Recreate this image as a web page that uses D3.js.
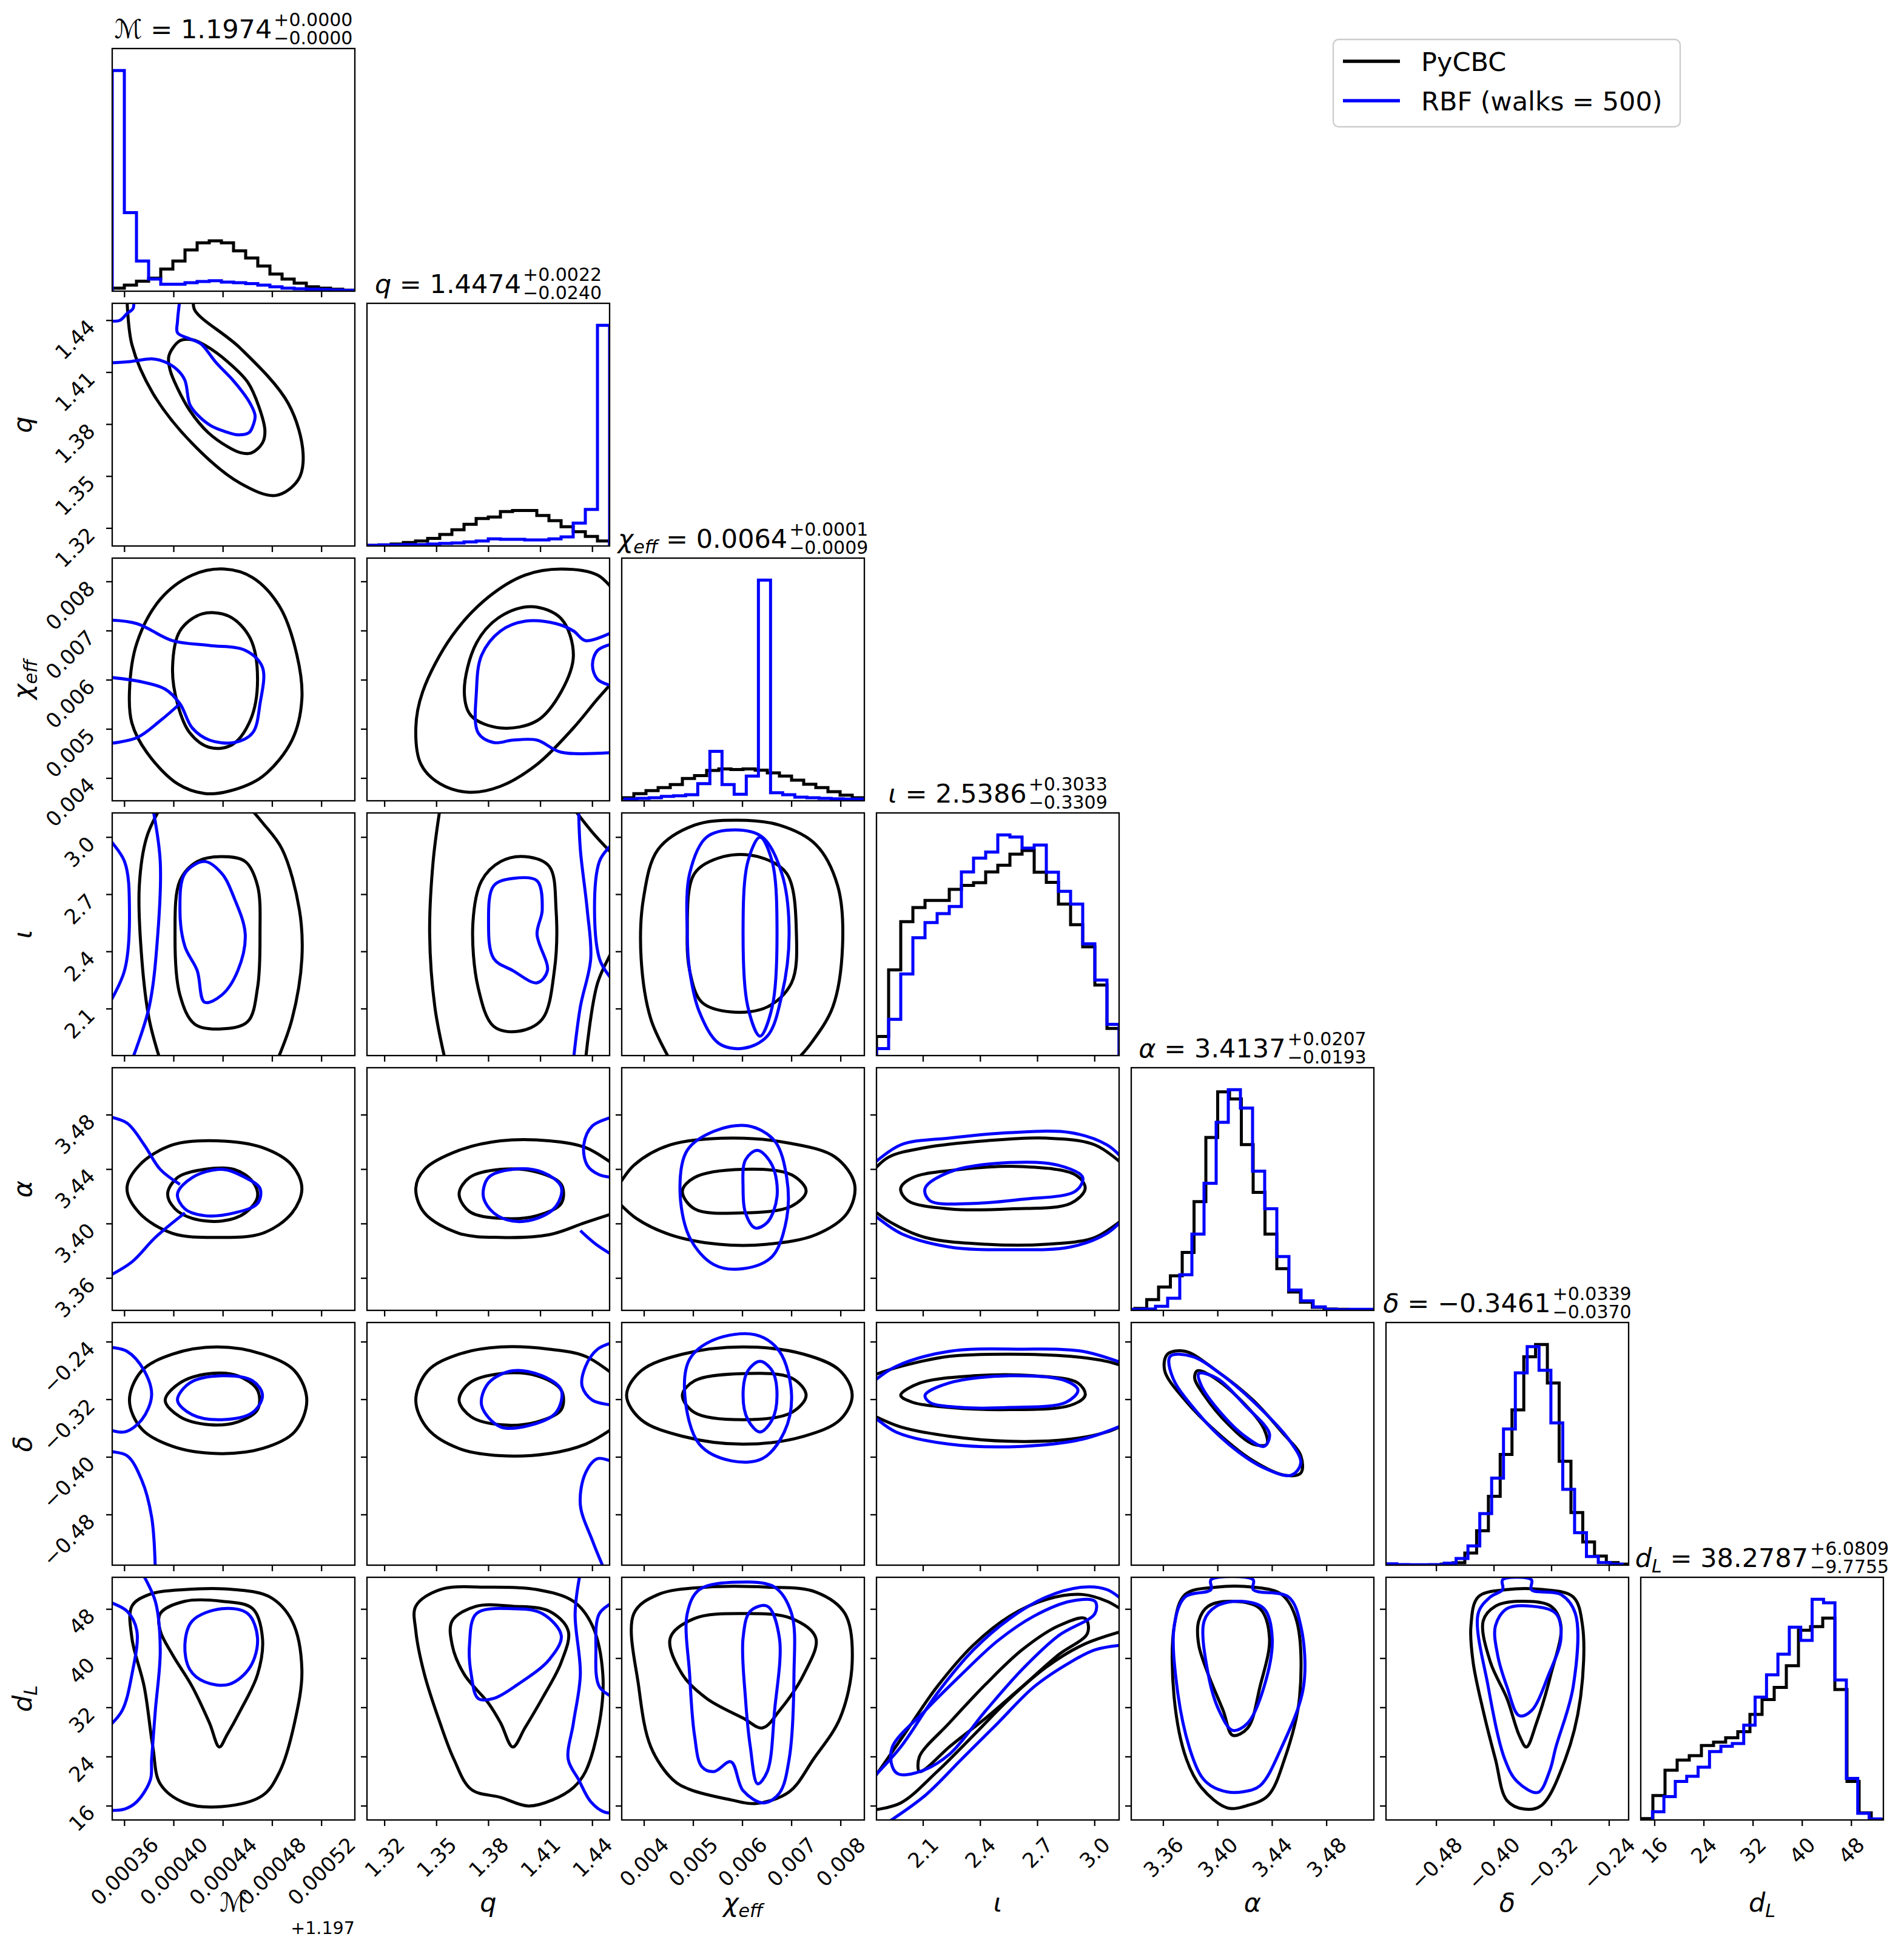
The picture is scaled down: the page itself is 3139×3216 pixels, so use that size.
<!DOCTYPE html>
<html>
<head>
<meta charset="utf-8">
<script src="https://d3js.org/d3.v7.min.js"></script>
<style>
  body { margin:0; background:#fff; }
  text { font-family: "DejaVu Sans", sans-serif; fill:#000; }
</style>
</head>
<body>
<div id="my_dataviz"></div>
<script>
// ---- parameters (row / column order of the corner plot) ----
// chirp mass is shown as an offset from 1.197
const mcOffset = "+1.197";
const labelParts = [
  [["ℳ","i"]], [["q","i"]], [["χ","i"],["eff","sub"]], [["ι","i"]],
  [["α","i"]], [["δ","i"]], [["d","i"],["L","sub"]]
];
const axisLo = [0.000350, 1.3098, 0.003543, 1.855, 3.3364, -0.550, 13.73];
const axisHi = [0.000547, 1.4499, 0.008480, 3.128, 3.5147, -0.213, 53.20];
const tickValues = [
  [0.00036,0.00040,0.00044,0.00048,0.00052],
  [1.32,1.35,1.38,1.41,1.44],
  [0.004,0.005,0.006,0.007,0.008],
  [2.1,2.4,2.7,3.0],
  [3.36,3.40,3.44,3.48],
  [-0.48,-0.40,-0.32,-0.24],
  [16,24,32,40,48]
];
const tickLabels = [
  ["0.00036","0.00040","0.00044","0.00048","0.00052"],
  ["1.32","1.35","1.38","1.41","1.44"],
  ["0.004","0.005","0.006","0.007","0.008"],
  ["2.1","2.4","2.7","3.0"],
  ["3.36","3.40","3.44","3.48"],
  ["−0.48","−0.40","−0.32","−0.24"],
  ["16","24","32","40","48"]
];
const titleValues = ["1.1974","1.4474","0.0064","2.5386","3.4137","−0.3461","38.2787"];
const titlePlus  = ["+0.0000","+0.0022","+0.0001","+0.3033","+0.0207","+0.0339","+6.0809"];
const titleMinus = ["−0.0000","−0.0240","−0.0009","−0.3309","−0.0193","−0.0370","−9.7755"];

const legendNames = ["PyCBC", "RBF (walks = 500)"];
const seriesColors = ["#000000", "#0000ff"];

// ---- 1D histograms (20 bins each) ----
const pycbcBinLo = [0.000350, 1.3098, 0.003543, 1.855, 3.3391, -0.5388, 13.73];
const pycbcBinHi = [0.000547, 1.4499, 0.008480, 3.128, 3.5129, -0.2112, 53.20];
const rbfBinLo   = [0.000350, 1.3098, 0.003609, 1.855, 3.3364, -0.5514, 15.64];
const rbfBinHi   = [0.000547, 1.4499, 0.008546, 3.128, 3.5147, -0.2222, 52.74];

const histPyCBC = [
  [15,30,50,65,110,150,205,240,250,240,200,165,125,85,60,40,22,15,10,5],
  [3,5,10,17,25,37,57,80,107,135,143,170,175,175,150,125,95,70,47,25],
  [15,35,50,65,80,110,125,150,158,155,158,152,138,122,102,82,65,45,28,15],
  [95,425,665,735,770,770,825,845,858,912,945,1000,1018,910,860,752,650,540,350,135],
  [10,53,115,170,285,535,850,1075,1040,815,580,375,205,90,40,15,7,5,3,3],
  [1,1,1,2,5,12,60,170,340,547,767,1030,1090,900,513,260,115,45,13,5],
  [7,120,245,295,317,367,383,405,435,520,593,653,760,935,953,995,643,190,35,3]
];
const histRBF = [
  [1095,390,150,60,35,35,42,48,52,45,42,38,30,22,15,12,10,8,6,4],
  [3,5,5,7,7,10,13,15,20,25,35,33,33,30,30,35,45,113,180,1087],
  [8,12,15,22,25,30,85,245,80,32,122,1092,40,30,18,15,12,10,8,8],
  [35,180,405,585,660,705,740,912,980,1010,1095,1085,1030,1045,910,815,752,555,375,155],
  [5,7,20,60,175,375,625,925,1085,995,685,500,265,100,47,17,5,3,5,5],
  [7,3,2,2,2,10,33,95,255,430,673,950,1080,963,703,375,160,43,13,5],
  [40,115,190,215,260,337,363,377,467,605,715,817,950,885,1087,1070,690,205,33,5]
];

// ---- 2D contour levels: flat [x0,y0,x1,y1,...] lists in data units ----
const q_mc_pycbc = [
 [0.000362,1.453, 0.000366,1.426, 0.000383,1.398, 0.000415,1.369, 0.000454,1.346, 0.000483,1.339, 0.000501,1.348, 0.000505,1.363, 0.000493,1.392, 0.000454,1.424, 0.000417,1.446, 0.000416,1.453],
 [0.000405,1.4283, 0.000415,1.4289, 0.000426,1.4254, 0.000444,1.416, 0.000460,1.4044, 0.000469,1.3904, 0.000474,1.3763, 0.000472,1.3693, 0.000463,1.3635, 0.000454,1.3637, 0.000444,1.367, 0.000428,1.3752, 0.000413,1.388, 0.000403,1.4009, 0.000397,1.4114, 0.000396,1.4195]
];
const q_mc_rbf = [
 [0.000346,1.440, 0.000356,1.440, 0.000362,1.444, 0.000367,1.447, 0.000367,1.453],
 [0.000346,1.4154, 0.000365,1.4163, 0.000383,1.4178, 0.000393,1.416, 0.000403,1.4114, 0.000409,1.4055, 0.000413,1.3915, 0.000419,1.3857, 0.000430,1.3793, 0.000442,1.3758, 0.000452,1.374, 0.000461,1.3752, 0.000464,1.3787, 0.000466,1.3851, 0.000462,1.3921, 0.000456,1.3985, 0.000448,1.4055, 0.000434,1.416, 0.000422,1.4265, 0.000413,1.4294, 0.000403,1.4329, 0.000403,1.4394, 0.000405,1.4527]
];
const chi_mc_pycbc = [
 [0.000364,0.005765, 0.000370,0.006752, 0.000389,0.007641, 0.000415,0.008134, 0.000441,0.008258, 0.000464,0.008085, 0.000486,0.007493, 0.000500,0.006505, 0.000504,0.005617, 0.000496,0.004777, 0.000472,0.004037, 0.000445,0.003740, 0.000425,0.003691, 0.000403,0.003889, 0.000378,0.004530, 0.000366,0.005123],
 [0.000399,0.006258, 0.000405,0.006999, 0.000423,0.007345, 0.000445,0.007295, 0.000462,0.006851, 0.000468,0.006012, 0.000462,0.005172, 0.000447,0.004678, 0.000429,0.004629, 0.000413,0.004925, 0.000403,0.005518]
];
const chi_mc_rbf = [
 [0.000346,0.007221, 0.000370,0.007147, 0.000399,0.006801, 0.000429,0.006703, 0.000458,0.006604, 0.000472,0.006258, 0.000470,0.005518, 0.000464,0.004925, 0.000449,0.004728, 0.000429,0.004777, 0.000415,0.005024, 0.000405,0.005518, 0.000393,0.005814, 0.000374,0.005962, 0.000346,0.006061],
 [0.000346,0.004703, 0.000370,0.004827, 0.000389,0.005172, 0.000405,0.005518]
];
const chi_q_pycbc = [
 [1.453,0.007789, 1.443,0.008134, 1.422,0.008258, 1.401,0.008134, 1.380,0.007690, 1.359,0.006900, 1.342,0.005765, 1.338,0.005024, 1.341,0.004284, 1.352,0.003889, 1.369,0.003716, 1.387,0.003839, 1.408,0.004284, 1.429,0.005024, 1.443,0.005617, 1.453,0.006012],
 [1.366,0.005765, 1.373,0.006752, 1.387,0.007295, 1.405,0.007493, 1.422,0.007246, 1.429,0.006505, 1.422,0.005765, 1.408,0.005172, 1.387,0.005024, 1.370,0.005271]
];
const chi_q_rbf = [
 [1.453,0.004530, 1.422,0.004530, 1.408,0.004777, 1.394,0.004777, 1.383,0.004728, 1.374,0.004925, 1.373,0.005765, 1.376,0.006505, 1.387,0.006999, 1.401,0.007196, 1.419,0.007147, 1.429,0.006999, 1.436,0.006801, 1.453,0.006999],
 [1.453,0.005863, 1.443,0.006012, 1.440,0.006308, 1.443,0.006604, 1.453,0.006752]
];
const iota_mc_pycbc = [
 [0.000389,3.153, 0.000378,3.001, 0.000372,2.746, 0.000374,2.364, 0.000380,2.046, 0.000389,1.830],
 [0.000462,3.153, 0.000472,3.077, 0.000488,2.937, 0.000502,2.619, 0.000504,2.364, 0.000496,2.046, 0.000484,1.830],
 [0.000401,2.492, 0.000405,2.772, 0.000419,2.873, 0.000439,2.899, 0.000458,2.873, 0.000468,2.746, 0.000470,2.492, 0.000468,2.211, 0.000460,2.033, 0.000439,1.995, 0.000417,2.020, 0.000405,2.173]
];
const iota_mc_rbf = [
 [0.000405,2.619, 0.000409,2.810, 0.000425,2.873, 0.000439,2.810, 0.000449,2.682, 0.000458,2.492, 0.000452,2.301, 0.000439,2.173, 0.000425,2.135, 0.000419,2.301, 0.000409,2.428],
 [0.000383,3.153, 0.000389,2.873, 0.000387,2.492, 0.000380,2.110, 0.000366,1.830],
 [0.000346,3.001, 0.000360,2.873, 0.000364,2.619, 0.000360,2.301, 0.000346,2.110]
];
const iota_q_pycbc = [
 [1.352,3.153, 1.348,2.873, 1.346,2.492, 1.349,2.110, 1.355,1.830],
 [1.429,3.153, 1.440,3.026, 1.453,2.899],
 [1.453,2.428, 1.443,2.237, 1.436,1.830],
 [1.371,2.555, 1.376,2.772, 1.387,2.873, 1.401,2.899, 1.415,2.848, 1.419,2.619, 1.418,2.301, 1.411,2.046, 1.397,1.982, 1.383,2.008, 1.374,2.211]
];
const iota_q_rbf = [
 [1.380,2.555, 1.383,2.746, 1.394,2.784, 1.408,2.772, 1.411,2.619, 1.408,2.492, 1.414,2.301, 1.408,2.237, 1.394,2.301, 1.383,2.364],
 [1.432,3.153, 1.433,2.937, 1.437,2.619, 1.439,2.364, 1.433,2.110, 1.429,1.830],
 [1.453,2.975, 1.444,2.873, 1.444,2.364, 1.453,2.237]
];
const iota_chi_pycbc = [
 [0.004530,1.830, 0.004136,2.046, 0.003938,2.364, 0.003987,2.682, 0.004284,2.937, 0.005024,3.064, 0.005863,3.090, 0.006752,3.064, 0.007493,2.962, 0.007937,2.746, 0.008036,2.428, 0.007838,2.110, 0.007394,1.919, 0.007098,1.830],
 [0.004876,2.492, 0.005024,2.810, 0.005617,2.899, 0.006308,2.899, 0.006900,2.810, 0.007098,2.492, 0.006999,2.237, 0.006505,2.110, 0.005765,2.084, 0.005172,2.135, 0.004925,2.301]
];
const iota_chi_rbf = [
 [0.004876,2.492, 0.004925,2.810, 0.005271,3.001, 0.005863,3.039, 0.006406,3.001, 0.006801,2.810, 0.006949,2.492, 0.006801,2.173, 0.006505,1.957, 0.006012,1.893, 0.005518,1.919, 0.005123,2.084, 0.004925,2.301],
 [0.006012,2.492, 0.006110,2.873, 0.006357,3.001, 0.006604,2.873, 0.006703,2.492, 0.006604,2.110, 0.006357,1.957, 0.006110,2.110]
];
const alpha_mc_pycbc = [
 [0.000362,3.426, 0.000372,3.443, 0.000399,3.458, 0.000435,3.461, 0.000472,3.456, 0.000496,3.443, 0.000504,3.426, 0.000496,3.408, 0.000472,3.393, 0.000435,3.390, 0.000399,3.393, 0.000372,3.408],
 [0.000395,3.422, 0.000403,3.434, 0.000425,3.440, 0.000449,3.440, 0.000464,3.431, 0.000468,3.420, 0.000458,3.408, 0.000439,3.402, 0.000415,3.404, 0.000401,3.411]
];
const alpha_mc_rbf = [
 [0.000403,3.422, 0.000415,3.434, 0.000439,3.440, 0.000458,3.434, 0.000470,3.426, 0.000468,3.415, 0.000449,3.408, 0.000425,3.406, 0.000409,3.411],
 [0.000346,3.479, 0.000362,3.474, 0.000376,3.458, 0.000389,3.440, 0.000405,3.429],
 [0.000346,3.361, 0.000366,3.372, 0.000385,3.390, 0.000409,3.408]
];
const alpha_q_pycbc = [
 [1.453,3.443, 1.436,3.456, 1.415,3.461, 1.387,3.461, 1.363,3.454, 1.343,3.440, 1.338,3.426, 1.343,3.408, 1.363,3.393, 1.387,3.390, 1.415,3.392, 1.436,3.401, 1.453,3.408],
 [1.363,3.422, 1.369,3.434, 1.387,3.440, 1.408,3.438, 1.422,3.429, 1.422,3.415, 1.408,3.406, 1.387,3.404, 1.369,3.409]
];
const alpha_q_rbf = [
 [1.377,3.420, 1.380,3.434, 1.394,3.440, 1.411,3.438, 1.422,3.427, 1.419,3.413, 1.408,3.404, 1.394,3.402, 1.383,3.408],
 [1.453,3.479, 1.440,3.472, 1.435,3.458, 1.437,3.443, 1.444,3.436, 1.453,3.434],
 [1.453,3.376, 1.442,3.385, 1.433,3.395]
];
const alpha_chi_pycbc = [
 [0.003444,3.426, 0.003790,3.443, 0.004530,3.458, 0.005765,3.463, 0.006999,3.459, 0.007887,3.449, 0.008282,3.429, 0.008134,3.408, 0.007493,3.392, 0.006505,3.385, 0.005518,3.385, 0.004530,3.392, 0.003839,3.404, 0.003444,3.417],
 [0.004777,3.424, 0.005024,3.434, 0.006012,3.440, 0.006999,3.436, 0.007295,3.424, 0.006999,3.413, 0.006012,3.408, 0.005024,3.411]
];
const alpha_chi_rbf = [
 [0.004728,3.426, 0.004876,3.454, 0.005419,3.468, 0.006110,3.472, 0.006653,3.461, 0.006900,3.434, 0.006900,3.404, 0.006604,3.376, 0.006012,3.367, 0.005419,3.370, 0.004925,3.390],
 [0.006012,3.426, 0.006061,3.447, 0.006308,3.454, 0.006604,3.443, 0.006703,3.420, 0.006505,3.401, 0.006258,3.397, 0.006061,3.408]
];
const alpha_iota_pycbc = [
 [1.830,3.438, 1.919,3.449, 2.110,3.456, 2.428,3.461, 2.746,3.463, 3.001,3.458, 3.153,3.443],
 [1.830,3.411, 1.931,3.401, 2.110,3.390, 2.428,3.385, 2.746,3.385, 3.001,3.390, 3.153,3.404],
 [1.982,3.426, 2.046,3.434, 2.301,3.440, 2.619,3.442, 2.899,3.436, 2.950,3.426, 2.873,3.415, 2.555,3.411, 2.237,3.411, 2.020,3.417]
];
const alpha_iota_rbf = [
 [1.830,3.443, 1.982,3.458, 2.237,3.463, 2.555,3.467, 2.873,3.467, 3.064,3.458, 3.153,3.447],
 [1.830,3.408, 1.982,3.393, 2.237,3.383, 2.555,3.381, 2.873,3.383, 3.064,3.393, 3.153,3.404],
 [2.110,3.426, 2.237,3.438, 2.555,3.445, 2.810,3.443, 2.937,3.434, 2.899,3.424, 2.619,3.418, 2.364,3.415, 2.135,3.417]
];
const delta_mc_pycbc = [
 [0.000364,-0.321, 0.000374,-0.280, 0.000399,-0.257, 0.000435,-0.247, 0.000472,-0.257, 0.000498,-0.280, 0.000508,-0.321, 0.000498,-0.365, 0.000472,-0.388, 0.000435,-0.395, 0.000399,-0.385, 0.000374,-0.361],
 [0.000393,-0.321, 0.000405,-0.297, 0.000429,-0.284, 0.000452,-0.287, 0.000468,-0.307, 0.000468,-0.334, 0.000452,-0.351, 0.000429,-0.355, 0.000405,-0.344]
];
const delta_mc_rbf = [
 [0.000403,-0.321, 0.000413,-0.297, 0.000439,-0.287, 0.000464,-0.294, 0.000472,-0.314, 0.000464,-0.338, 0.000439,-0.348, 0.000415,-0.341],
 [0.000346,-0.247, 0.000362,-0.253, 0.000376,-0.280, 0.000382,-0.314, 0.000374,-0.348, 0.000360,-0.365, 0.000346,-0.361],
 [0.000346,-0.392, 0.000362,-0.398, 0.000374,-0.432, 0.000382,-0.483, 0.000385,-0.557]
];
const delta_q_pycbc = [
 [1.453,-0.287, 1.436,-0.260, 1.415,-0.250, 1.387,-0.247, 1.363,-0.257, 1.345,-0.280, 1.338,-0.321, 1.345,-0.361, 1.363,-0.388, 1.387,-0.398, 1.415,-0.395, 1.436,-0.382, 1.453,-0.358],
 [1.363,-0.321, 1.369,-0.297, 1.387,-0.284, 1.408,-0.287, 1.422,-0.307, 1.422,-0.334, 1.408,-0.351, 1.387,-0.355, 1.370,-0.344]
];
const delta_q_rbf = [
 [1.376,-0.328, 1.380,-0.297, 1.394,-0.280, 1.411,-0.287, 1.422,-0.307, 1.419,-0.338, 1.405,-0.355, 1.387,-0.358],
 [1.453,-0.240, 1.443,-0.250, 1.436,-0.274, 1.434,-0.301, 1.440,-0.321, 1.453,-0.328],
 [1.453,-0.408, 1.443,-0.402, 1.436,-0.422, 1.433,-0.466, 1.440,-0.516, 1.447,-0.557]
];
const delta_chi_pycbc = [
 [0.003642,-0.314, 0.003938,-0.280, 0.004777,-0.257, 0.006012,-0.247, 0.007246,-0.257, 0.007986,-0.280, 0.008233,-0.314, 0.007986,-0.348, 0.007246,-0.371, 0.006012,-0.382, 0.004777,-0.371, 0.003938,-0.348],
 [0.004777,-0.314, 0.005024,-0.294, 0.006012,-0.284, 0.006999,-0.290, 0.007295,-0.314, 0.006999,-0.338, 0.006012,-0.348, 0.005024,-0.338]
];
const delta_chi_rbf = [
 [0.004827,-0.314, 0.004925,-0.264, 0.005419,-0.237, 0.006258,-0.230, 0.006752,-0.253, 0.006999,-0.314, 0.006851,-0.365, 0.006406,-0.402, 0.005765,-0.405, 0.005123,-0.382],
 [0.006012,-0.314, 0.006110,-0.280, 0.006357,-0.267, 0.006604,-0.280, 0.006703,-0.314, 0.006604,-0.348, 0.006357,-0.365, 0.006110,-0.348]
];
const delta_iota_pycbc = [
 [1.830,-0.287, 1.982,-0.274, 2.237,-0.260, 2.555,-0.257, 2.873,-0.260, 3.064,-0.267, 3.153,-0.274],
 [1.830,-0.341, 1.982,-0.358, 2.237,-0.371, 2.555,-0.378, 2.873,-0.375, 3.064,-0.365, 3.153,-0.355],
 [1.982,-0.314, 2.084,-0.297, 2.364,-0.287, 2.682,-0.287, 2.912,-0.297, 2.950,-0.314, 2.873,-0.328, 2.555,-0.334, 2.237,-0.331, 2.046,-0.324]
];
const delta_iota_rbf = [
 [1.830,-0.297, 1.957,-0.274, 2.237,-0.253, 2.619,-0.250, 2.937,-0.253, 3.153,-0.270],
 [1.830,-0.341, 1.957,-0.365, 2.237,-0.382, 2.619,-0.385, 2.937,-0.375, 3.153,-0.355],
 [2.110,-0.314, 2.237,-0.297, 2.555,-0.287, 2.848,-0.294, 2.912,-0.307, 2.848,-0.324, 2.555,-0.331, 2.301,-0.331, 2.135,-0.324]
];
const delta_alpha_pycbc = [
 [3.363,-0.257, 3.376,-0.253, 3.399,-0.280, 3.426,-0.321, 3.447,-0.365, 3.461,-0.398, 3.461,-0.422, 3.449,-0.425, 3.426,-0.405, 3.399,-0.365, 3.376,-0.321, 3.361,-0.280],
 [3.385,-0.280, 3.395,-0.287, 3.417,-0.321, 3.434,-0.361, 3.436,-0.382, 3.426,-0.382, 3.408,-0.355, 3.390,-0.314, 3.383,-0.290]
];
const delta_alpha_rbf = [
 [3.365,-0.260, 3.381,-0.260, 3.404,-0.287, 3.429,-0.328, 3.452,-0.375, 3.461,-0.408, 3.454,-0.425, 3.434,-0.415, 3.408,-0.382, 3.385,-0.338, 3.367,-0.290],
 [3.386,-0.284, 3.399,-0.290, 3.420,-0.328, 3.438,-0.368, 3.434,-0.385, 3.420,-0.371, 3.402,-0.338, 3.388,-0.301]
];
const dl_mc_pycbc = [
 [0.000366,48.5, 0.000380,50.4, 0.000409,51.2, 0.000449,51.2, 0.000478,50.0, 0.000496,46.1, 0.000504,38.2, 0.000498,29.5, 0.000486,21.6, 0.000472,17.7, 0.000439,15.9, 0.000409,16.5, 0.000389,19.6, 0.000383,25.6, 0.000376,35.4, 0.000366,43.3],
 [0.000389,47.3, 0.000409,49.3, 0.000439,49.3, 0.000464,48.1, 0.000472,43.3, 0.000468,37.4, 0.000454,31.5, 0.000443,27.5, 0.000437,25.6, 0.000429,29.5, 0.000415,35.4, 0.000399,40.6, 0.000389,44.5]
];
const dl_mc_rbf = [
 [0.000409,42.2, 0.000415,46.1, 0.000439,48.1, 0.000460,47.3, 0.000468,43.3, 0.000462,38.6, 0.000445,35.8, 0.000425,36.2, 0.000413,38.2],
 [0.000374,54.0, 0.000385,49.3, 0.000389,41.4, 0.000385,31.5, 0.000382,23.6, 0.000381,20.3, 0.000370,16.7, 0.000360,15.5, 0.000346,15.3],
 [0.000346,49.3, 0.000362,47.7, 0.000370,44.5, 0.000366,37.4, 0.000358,31.5, 0.000346,28.7]
];
const dl_q_pycbc = [
 [1.338,48.5, 1.352,51.2, 1.380,51.6, 1.408,51.2, 1.429,49.3, 1.440,45.3, 1.446,37.4, 1.444,29.5, 1.436,21.6, 1.429,19.0, 1.417,17.0, 1.403,16.0, 1.387,17.4, 1.370,18.7, 1.360,23.6, 1.352,29.5, 1.343,37.4, 1.338,44.5],
 [1.359,46.1, 1.373,48.5, 1.394,48.5, 1.415,47.7, 1.426,44.5, 1.422,39.4, 1.411,33.5, 1.401,28.7, 1.394,25.6, 1.387,29.5, 1.380,32.7, 1.366,37.4, 1.359,42.2]
];
const dl_q_rbf = [
 [1.369,42.2, 1.373,47.3, 1.394,48.1, 1.411,47.3, 1.422,43.7, 1.415,39.8, 1.397,35.8, 1.383,33.5, 1.374,33.5, 1.370,37.4],
 [1.433,54.0, 1.430,47.3, 1.433,37.4, 1.429,29.5, 1.426,23.6, 1.432,20.3, 1.439,16.7, 1.447,15.0, 1.453,14.9],
 [1.453,49.3, 1.444,47.3, 1.442,41.4, 1.444,35.4, 1.453,33.5]
];
const dl_chi_pycbc = [
 [0.003790,47.3, 0.004284,50.4, 0.005271,51.6, 0.006505,51.6, 0.007493,50.8, 0.008085,47.3, 0.008233,39.4, 0.007986,30.3, 0.007443,23.6, 0.006949,18.3, 0.006258,16.4, 0.005765,17.0, 0.004925,18.7, 0.004580,20.3, 0.004136,25.6, 0.003889,35.4],
 [0.004530,43.3, 0.005024,46.5, 0.006012,47.3, 0.006999,46.5, 0.007493,43.3, 0.007246,37.4, 0.006752,31.5, 0.006406,28.7, 0.006012,30.3, 0.005271,33.5, 0.004777,37.4]
];
const dl_chi_rbf = [
 [0.004876,47.3, 0.005123,51.2, 0.005913,52.4, 0.006653,51.6, 0.006999,47.3, 0.007048,37.4, 0.006949,23.6, 0.006752,18.1, 0.006431,16.5, 0.006012,18.5, 0.005765,23.2, 0.005419,21.6, 0.005172,22.4, 0.005024,27.5, 0.004925,37.4],
 [0.006012,43.3, 0.006160,47.7, 0.006505,48.5, 0.006752,43.3, 0.006653,31.5, 0.006505,21.6, 0.006308,19.6, 0.006160,25.6, 0.006061,33.5]
];
const dl_iota_pycbc = [
 [1.830,20.0, 1.982,26.8, 2.173,35.4, 2.364,42.2, 2.555,46.9, 2.746,49.6, 2.937,50.4, 3.064,49.3, 3.153,47.7],
 [1.830,15.3, 1.982,16.5, 2.173,21.6, 2.364,27.5, 2.555,33.5, 2.746,38.6, 2.937,42.2, 3.153,44.5],
 [2.080,21.6, 2.080,24.0, 2.237,29.5, 2.428,35.8, 2.619,41.4, 2.810,45.3, 2.950,46.5, 2.962,44.1, 2.810,40.6, 2.619,35.4, 2.428,30.3, 2.237,25.6, 2.110,22.0]
];
const dl_iota_rbf = [
 [1.830,20.4, 1.982,25.6, 2.173,34.3, 2.364,41.4, 2.555,46.5, 2.746,50.0, 2.937,51.6, 3.064,51.2, 3.153,49.3],
 [1.893,12.9, 2.110,17.7, 2.301,23.6, 2.492,29.5, 2.682,35.4, 2.873,39.4, 3.001,41.4, 3.153,42.2],
 [1.938,22.4, 1.938,25.6, 2.110,31.5, 2.301,37.4, 2.492,42.9, 2.682,46.9, 2.873,49.3, 3.001,49.3, 3.001,47.3, 2.810,43.7, 2.619,38.2, 2.428,31.5, 2.237,24.4, 2.084,21.6, 1.970,21.2]
];
const dl_alpha_pycbc = [
 [3.368,45.3, 3.376,50.4, 3.399,51.6, 3.426,51.6, 3.447,50.4, 3.458,46.1, 3.460,33.5, 3.449,23.6, 3.437,17.7, 3.422,16.1, 3.407,15.7, 3.388,19.0, 3.377,23.6, 3.368,33.5],
 [3.386,46.1, 3.393,48.5, 3.411,49.3, 3.431,48.1, 3.438,43.3, 3.431,35.4, 3.422,28.7, 3.411,27.5, 3.404,31.5, 3.393,37.4, 3.386,42.2]
];
const dl_alpha_rbf = [
 [3.368,45.3, 3.376,50.0, 3.395,51.2, 3.395,52.8, 3.426,52.8, 3.426,51.2, 3.452,50.0, 3.461,45.3, 3.463,35.4, 3.447,25.6, 3.431,19.3, 3.418,18.3, 3.407,18.3, 3.395,19.3, 3.388,20.8, 3.379,25.6, 3.370,35.4],
 [3.390,46.1, 3.399,48.5, 3.417,49.3, 3.434,48.1, 3.440,43.3, 3.434,35.4, 3.422,29.5, 3.411,28.3, 3.401,31.5, 3.393,37.4]
];
const dl_delta_pycbc = [
 [-0.432,45.3, -0.422,50.0, -0.382,51.2, -0.331,51.2, -0.290,50.0, -0.277,45.3, -0.280,33.5, -0.301,23.6, -0.334,16.1, -0.358,15.5, -0.382,16.9, -0.398,23.6, -0.415,31.5, -0.429,39.4],
 [-0.415,46.1, -0.398,48.5, -0.365,49.3, -0.321,48.5, -0.307,45.3, -0.321,37.4, -0.341,29.5, -0.355,25.6, -0.365,27.5, -0.382,33.5, -0.405,39.4]
];
const dl_delta_rbf = [
 [-0.422,47.3, -0.405,50.0, -0.388,51.2, -0.388,52.8, -0.348,52.8, -0.348,51.2, -0.307,50.4, -0.287,47.3, -0.290,35.4, -0.314,25.6, -0.323,21.6, -0.339,18.2, -0.368,20.0, -0.385,23.6, -0.408,35.4],
 [-0.398,45.3, -0.382,48.1, -0.348,48.5, -0.314,47.3, -0.307,43.3, -0.324,37.4, -0.348,31.5, -0.365,30.7, -0.382,35.4, -0.395,40.6]
];

// [row, col, PyCBC levels, RBF levels]
const contourPanels = [
  [1,0,q_mc_pycbc,q_mc_rbf],
  [2,0,chi_mc_pycbc,chi_mc_rbf],[2,1,chi_q_pycbc,chi_q_rbf],
  [3,0,iota_mc_pycbc,iota_mc_rbf],[3,1,iota_q_pycbc,iota_q_rbf],[3,2,iota_chi_pycbc,iota_chi_rbf],
  [4,0,alpha_mc_pycbc,alpha_mc_rbf],[4,1,alpha_q_pycbc,alpha_q_rbf],[4,2,alpha_chi_pycbc,alpha_chi_rbf],[4,3,alpha_iota_pycbc,alpha_iota_rbf],
  [5,0,delta_mc_pycbc,delta_mc_rbf],[5,1,delta_q_pycbc,delta_q_rbf],[5,2,delta_chi_pycbc,delta_chi_rbf],[5,3,delta_iota_pycbc,delta_iota_rbf],[5,4,delta_alpha_pycbc,delta_alpha_rbf],
  [6,0,dl_mc_pycbc,dl_mc_rbf],[6,1,dl_q_pycbc,dl_q_rbf],[6,2,dl_chi_pycbc,dl_chi_rbf],[6,3,dl_iota_pycbc,dl_iota_rbf],[6,4,dl_alpha_pycbc,dl_alpha_rbf],[6,5,dl_delta_pycbc,dl_delta_rbf]
];

// ---- layout ----
const W = 3139, H = 3216;
const left0 = 185, top0 = 80, size = 400, step = 420;
const nP = labelParts.length;
const lineW = 5, frameW = 2.3, tickLen = 10;
const tickFs = 34, offsetFs = 28.6, labelFs = 43, supFs = 30;

var svg = d3.select("#my_dataviz")
  .append("svg")
    .attr("width", W)
    .attr("height", H)
    .style("background", "#fff");

svg.append("defs").append("clipPath").attr("id", "panelClip")
  .append("rect").attr("x", 0).attr("y", 0).attr("width", size).attr("height", size);

function xScale(i) { return d3.scaleLinear().domain([axisLo[i], axisHi[i]]).range([0, size]); }
function yScale(i) { return d3.scaleLinear().domain([axisLo[i], axisHi[i]]).range([size, 0]); }

function pairs(flat) {
  var p = [];
  for (let k = 0; k < flat.length; k += 2) p.push([flat[k], flat[k+1]]);
  return p;
}

// write a math-ish label (italic symbols, subscripts) into a text element
function addLabel(t, parts, fs) {
  let shift = 0;
  parts.forEach(function(p) {
    const ts = t.append("tspan").attr("font-style", "italic").text(p[0]);
    if (p[1] === "sub") {
      ts.attr("font-size", fs * 0.7).attr("dy", fs * 0.2 - shift);
      shift = fs * 0.2;
    } else if (shift) {
      ts.attr("dy", -shift); shift = 0;
    }
  });
  return shift;
}

function panelGroup(r, c) {
  return svg.append("g").attr("transform", "translate(" + (left0 + step*c) + "," + (top0 + step*r) + ")");
}

function xTicks(g, i, withLabels) {
  const x = xScale(i);
  tickValues[i].forEach(function(v, k) {
    g.append("line").attr("x1", x(v)).attr("x2", x(v)).attr("y1", size).attr("y2", size + tickLen)
      .attr("stroke", "#000").attr("stroke-width", frameW);
    if (withLabels) {
      const t = g.append("text").attr("font-size", tickFs)
        .attr("text-anchor", "middle").attr("dominant-baseline", "central").text(tickLabels[i][k]);
      const L = t.node().getComputedTextLength();
      const s = (L + 0.9*tickFs) * Math.SQRT1_2;
      const cx = x(v), cy = size + 24 + s/2;
      t.attr("transform", "translate(" + cx + "," + cy + ") rotate(-45)");
    }
  });
}

function yTicks(g, i, withLabels) {
  const y = yScale(i);
  tickValues[i].forEach(function(v, k) {
    g.append("line").attr("x1", -tickLen).attr("x2", 0).attr("y1", y(v)).attr("y2", y(v))
      .attr("stroke", "#000").attr("stroke-width", frameW);
    if (withLabels) {
      const t = g.append("text").attr("font-size", tickFs)
        .attr("text-anchor", "middle").attr("dominant-baseline", "central").text(tickLabels[i][k]);
      const L = t.node().getComputedTextLength();
      const s = (L + 0.9*tickFs) * Math.SQRT1_2;
      const cx = -24 - s/2, cy = y(v) - 6 + s/2;
      t.attr("transform", "translate(" + cx + "," + cy + ") rotate(-45)");
    }
  });
}

function frame(g) {
  g.append("rect").attr("width", size).attr("height", size)
    .attr("fill", "none").attr("stroke", "#000").attr("stroke-width", frameW);
}

// ---- diagonal: histograms ----
for (let i = 0; i < nP; i++) {
  const g = panelGroup(i, i);
  const x = xScale(i);
  const ymax = 1.1 * Math.max(d3.max(histPyCBC[i]), d3.max(histRBF[i]));
  const y = d3.scaleLinear().domain([0, ymax]).range([size, 0]);
  const series = [
    [histPyCBC[i], pycbcBinLo[i], pycbcBinHi[i]],
    [histRBF[i], rbfBinLo[i], rbfBinHi[i]]
  ];
  const cg = g.append("g").attr("clip-path", "url(#panelClip)");
  series.forEach(function(s, si) {
    const counts = s[0], lo = s[1], w = (s[2] - s[1]) / counts.length;
    const pts = [[lo, 0]];
    counts.forEach(function(h, b) { pts.push([lo + b*w, h]); pts.push([lo + (b+1)*w, h]); });
    pts.push([s[2], 0]);
    cg.append("path")
      .datum(pts)
      .attr("fill", "none")
      .attr("stroke", seriesColors[si])
      .attr("stroke-width", lineW)
      .attr("stroke-linejoin", "miter")
      .attr("d", d3.line().x(d => x(d[0])).y(d => y(d[1])));
  });
  frame(g);
  xTicks(g, i, i === nP - 1);

  // title: label = value ^{+err}_{-err}
  const t = g.append("text").attr("font-size", labelFs).attr("y", -17);
  const sh = addLabel(t, labelParts[i], labelFs);
  t.append("tspan").attr("dy", sh ? -sh : null).text(" = " + titleValues[i]);
  const mainW = t.node().getComputedTextLength();
  const tp = g.append("text").attr("font-size", supFs).attr("y", -37).text(titlePlus[i]);
  const tm = g.append("text").attr("font-size", supFs).attr("y", -7).text(titleMinus[i]);
  const errW = Math.max(tp.node().getComputedTextLength(), tm.node().getComputedTextLength());
  const x0 = size/2 - (mainW + 3 + errW) / 2;
  t.attr("x", x0);
  tp.attr("x", x0 + mainW + 3);
  tm.attr("x", x0 + mainW + 3);
}

// ---- lower triangle: contours ----
contourPanels.forEach(function(pn) {
  const r = pn[0], c = pn[1];
  const g = panelGroup(r, c);
  const x = xScale(c), y = yScale(r);
  const cg = g.append("g").attr("clip-path", "url(#panelClip)");
  [pn[2], pn[3]].forEach(function(levels, si) {
    levels.forEach(function(flat) {
      const pts = pairs(flat);
      const p0 = pts[0];
      const open = p0[0] < axisLo[c] || p0[0] > axisHi[c] || p0[1] < axisLo[r] || p0[1] > axisHi[r];
      const curve = open ? d3.curveCatmullRom.alpha(0.5) : d3.curveCatmullRomClosed.alpha(0.5);
      cg.append("path")
        .datum(pts)
        .attr("fill", "none")
        .attr("stroke", seriesColors[si])
        .attr("stroke-width", lineW)
        .attr("stroke-linejoin", "round")
        .attr("d", d3.line().x(d => x(d[0])).y(d => y(d[1])).curve(curve));
    });
  });
  frame(g);
  xTicks(g, c, r === nP - 1);
  yTicks(g, r, c === 0);
});

// ---- axis labels ----
for (let i = 0; i < nP; i++) {
  // bottom
  const tb = svg.append("text").attr("font-size", labelFs).attr("text-anchor", "middle")
    .attr("x", left0 + step*i + size/2).attr("y", top0 + step*(nP-1) + size + 151);
  addLabel(tb, labelParts[i], labelFs);
  // left
  if (i > 0) {
    const tl = svg.append("text").attr("font-size", labelFs).attr("text-anchor", "middle")
      .attr("transform", "translate(52," + (top0 + step*i + size/2) + ") rotate(-90)");
    addLabel(tl, labelParts[i], labelFs);
  }
}
// offset text of the chirp-mass axis
svg.append("text").attr("font-size", offsetFs).attr("text-anchor", "end")
  .attr("x", left0 + size).attr("y", top0 + step*(nP-1) + size + 188).text(mcOffset);

// ---- legend ----
const leg = svg.append("g");
leg.append("rect").attr("x", 2198).attr("y", 65).attr("width", 572).attr("height", 144)
  .attr("rx", 9).attr("fill", "#fff").attr("stroke", "#cccccc").attr("stroke-width", 2.3);
legendNames.forEach(function(n, k) {
  leg.append("line").attr("x1", 2214).attr("x2", 2308).attr("y1", 101 + 65*k).attr("y2", 101 + 65*k)
    .attr("stroke", seriesColors[k]).attr("stroke-width", 5.5);
  leg.append("text").attr("font-size", labelFs).attr("x", 2343).attr("y", 117 + 65*k).text(n);
});
</script>
</body>
</html>
